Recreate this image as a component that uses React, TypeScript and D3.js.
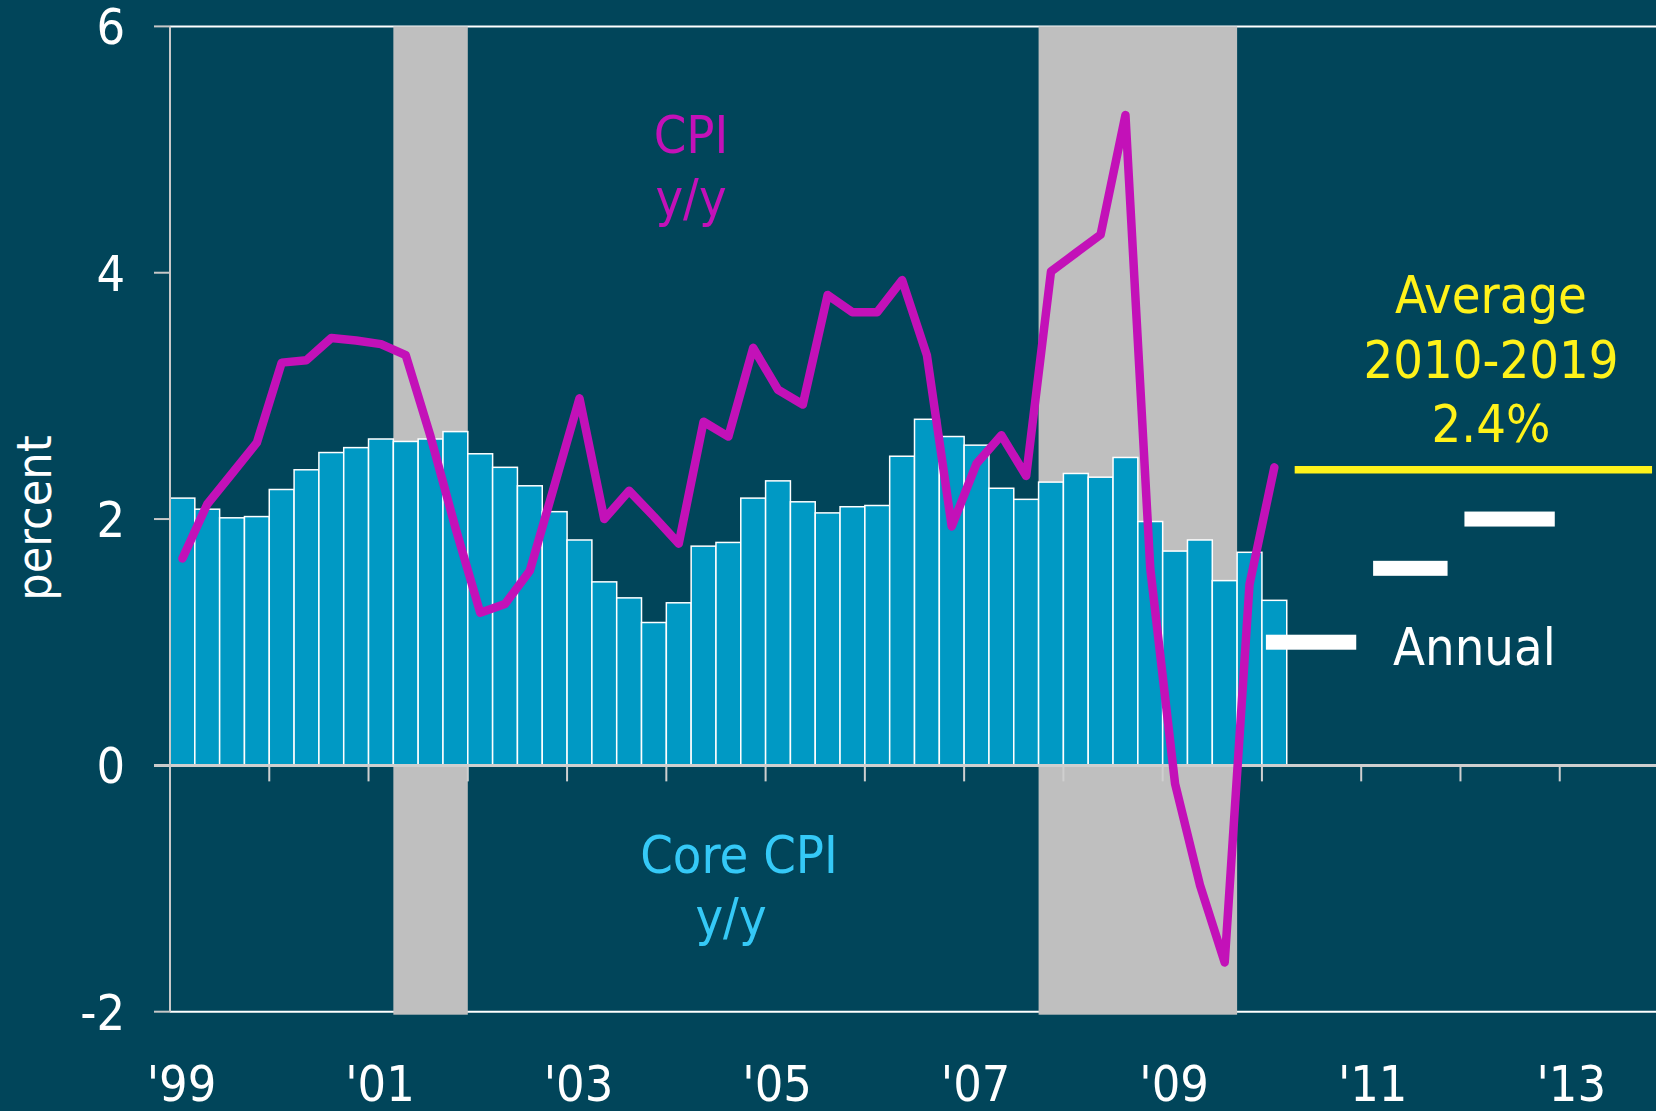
import React, { useEffect, useRef } from 'react';
import * as d3 from 'd3';

// quarterly values, 1999Q1 .. 2010Q1
const coreCpi = [
  2.17, 2.08, 2.01, 2.02, 2.24, 2.4, 2.54, 2.58, 2.65, 2.63, 2.65, 2.71, 2.53, 2.42, 2.27,
  2.06, 1.83, 1.49, 1.36, 1.16, 1.32, 1.78, 1.81, 2.17, 2.31, 2.14, 2.05, 2.1, 2.11, 2.51,
  2.81, 2.67, 2.6, 2.25, 2.16, 2.3, 2.37, 2.34, 2.5, 1.98, 1.74, 1.83, 1.5, 1.73, 1.34,
];
const cpi = [
  1.68, 2.12, 2.37, 2.62, 3.27, 3.29, 3.47, 3.45, 3.42, 3.33, 2.67, 1.93, 1.24, 1.31, 1.58,
  2.28, 2.98, 2.0, 2.23, 2.02, 1.8, 2.79, 2.67, 3.39, 3.05, 2.93, 3.82, 3.68, 3.68, 3.94,
  3.33, 1.94, 2.45, 2.68, 2.35, 4.01, 4.16, 4.31, 5.28, 1.6, -0.15, -0.97, -1.6, 1.47, 2.42,
];
const startYear = 1999;

const recessions: [number, number][] = [
  [2001.25, 2002.0],
  [2007.75, 2009.75],
];

// annual core projections (period in years, value)
const annualPeriods: [number, number][] = [
  [2010.04, 2010.95],
  [2011.12, 2011.87],
  [2012.04, 2012.95],
];
const annualValues = [1.0, 1.6, 2.0];

const avgPeriod: [number, number] = [2010.33, 2013.93];
const avgValue = 2.4;

const yTicks = [6, 4, 2, 0, -2];
const xTickYears = d3.range(2000, 2014);
const xLabelYears = [1999, 2001, 2003, 2005, 2007, 2009, 2011, 2013];

const W = 1656;
const H = 1111;
const FONT = "'DejaVu Sans Condensed', 'DejaVu Sans', sans-serif";

export default function App() {
  const ref = useRef<SVGSVGElement | null>(null);

  useEffect(() => {
    const svg = d3.select(ref.current);
    svg.selectAll('*').remove();

    const x = d3.scaleLinear().domain([1999, 2014]).range([170, 1659]);
    const y = d3.scaleLinear().domain([-2, 6]).range([1011.7, 26.4]);
    const q = (i: number) => startYear + i / 4;

    svg.append('rect').attr('width', W).attr('height', H).attr('fill', '#01455a');

    // frame lines top and bottom
    [6, -2].forEach((v) => {
      svg
        .append('line')
        .attr('x1', x(1999))
        .attr('x2', W)
        .attr('y1', y(v))
        .attr('y2', y(v))
        .attr('stroke', '#ffffff')
        .attr('stroke-width', 2);
    });

    // recession shading
    svg
      .selectAll('rect.rec')
      .data(recessions)
      .join('rect')
      .attr('class', 'rec')
      .attr('x', (d) => x(d[0]))
      .attr('width', (d) => x(d[1]) - x(d[0]))
      .attr('y', y(6))
      .attr('height', y(-2) - y(6) + 3)
      .attr('fill', '#bfbfbf');

    // core CPI bars
    svg
      .selectAll('rect.bar')
      .data(coreCpi)
      .join('rect')
      .attr('class', 'bar')
      .attr('x', (d, i) => x(q(i)))
      .attr('width', (d, i) => x(q(i + 1)) - x(q(i)))
      .attr('y', (d) => y(d))
      .attr('height', (d) => y(0) - y(d))
      .attr('fill', '#0099c4')
      .attr('stroke', '#ffffff')
      .attr('stroke-width', 1.5);

    // zero line + year ticks
    svg
      .append('line')
      .attr('x1', x(1999) - 16)
      .attr('x2', W)
      .attr('y1', y(0))
      .attr('y2', y(0))
      .attr('stroke', '#cfcfcf')
      .attr('stroke-width', 3);

    svg
      .selectAll('line.xt')
      .data(xTickYears)
      .join('line')
      .attr('class', 'xt')
      .attr('x1', (d) => x(d))
      .attr('x2', (d) => x(d))
      .attr('y1', y(0))
      .attr('y2', y(0) + 16)
      .attr('stroke', '#cfcfcf')
      .attr('stroke-width', 2);

    // y axis
    svg
      .append('line')
      .attr('x1', x(1999))
      .attr('x2', x(1999))
      .attr('y1', y(6))
      .attr('y2', y(-2))
      .attr('stroke', '#c8c8c8')
      .attr('stroke-width', 2);

    svg
      .selectAll('line.yt')
      .data(yTicks)
      .join('line')
      .attr('class', 'yt')
      .attr('x1', x(1999) - 16)
      .attr('x2', x(1999))
      .attr('y1', (d) => y(d))
      .attr('y2', (d) => y(d))
      .attr('stroke', '#c8c8c8')
      .attr('stroke-width', 2);

    // CPI line
    const line = d3
      .line<number>()
      .x((d, i) => x(q(i + 0.5)))
      .y((d) => y(d));
    svg
      .append('path')
      .attr('d', line(cpi))
      .attr('fill', 'none')
      .attr('stroke', '#c311b8')
      .attr('stroke-width', 8.5)
      .attr('stroke-linejoin', 'round')
      .attr('stroke-linecap', 'round');

    // annual dashes
    svg
      .selectAll('rect.ann')
      .data(annualPeriods)
      .join('rect')
      .attr('class', 'ann')
      .attr('x', (d) => x(d[0]))
      .attr('width', (d) => x(d[1]) - x(d[0]))
      .attr('y', (d, i) => y(annualValues[i]) - 7.5)
      .attr('height', 15)
      .attr('fill', '#ffffff');

    // 2010-2019 average
    svg
      .append('line')
      .attr('x1', x(avgPeriod[0]))
      .attr('x2', x(avgPeriod[1]))
      .attr('y1', y(avgValue))
      .attr('y2', y(avgValue))
      .attr('stroke', '#fff21a')
      .attr('stroke-width', 7.5);

    const text = (
      tx: number,
      ty: number,
      s: string,
      color: string,
      anchor = 'middle',
      size = 52,
    ) =>
      svg
        .append('text')
        .attr('x', tx)
        .attr('y', ty)
        .attr('text-anchor', anchor)
        .attr('font-family', FONT)
        .attr('font-size', size)
        .attr('fill', color)
        .text(s);

    yTicks.forEach((v) => text(125, y(v) + 18, String(v), '#ffffff', 'end', 50));
    xLabelYears.forEach((yr) =>
      text(x(yr) + 11.5, 1101, `'${String(yr).slice(2)}`, '#ffffff', 'middle', 50),
    );

    text(0, 0, 'percent', '#ffffff', 'middle', 48).attr(
      'transform',
      'translate(51,518) rotate(-90)',
    );

    text(691, 153, 'CPI', '#c311b8');
    text(691, 216, 'y/y', '#c311b8');
    text(739, 873, 'Core CPI', '#35c9f7');
    text(731, 935, 'y/y', '#35c9f7');
    text(1491, 313, 'Average', '#fff21a');
    text(1491, 378, '2010-2019', '#fff21a');
    text(1491, 442, '2.4%', '#fff21a');
    text(1393, 665, 'Annual', '#ffffff', 'start');
  }, []);

  return (
    <svg
      ref={ref}
      width={W}
      height={H}
      style={{ position: 'absolute', left: 0, top: 0, display: 'block' }}
    />
  );
}
